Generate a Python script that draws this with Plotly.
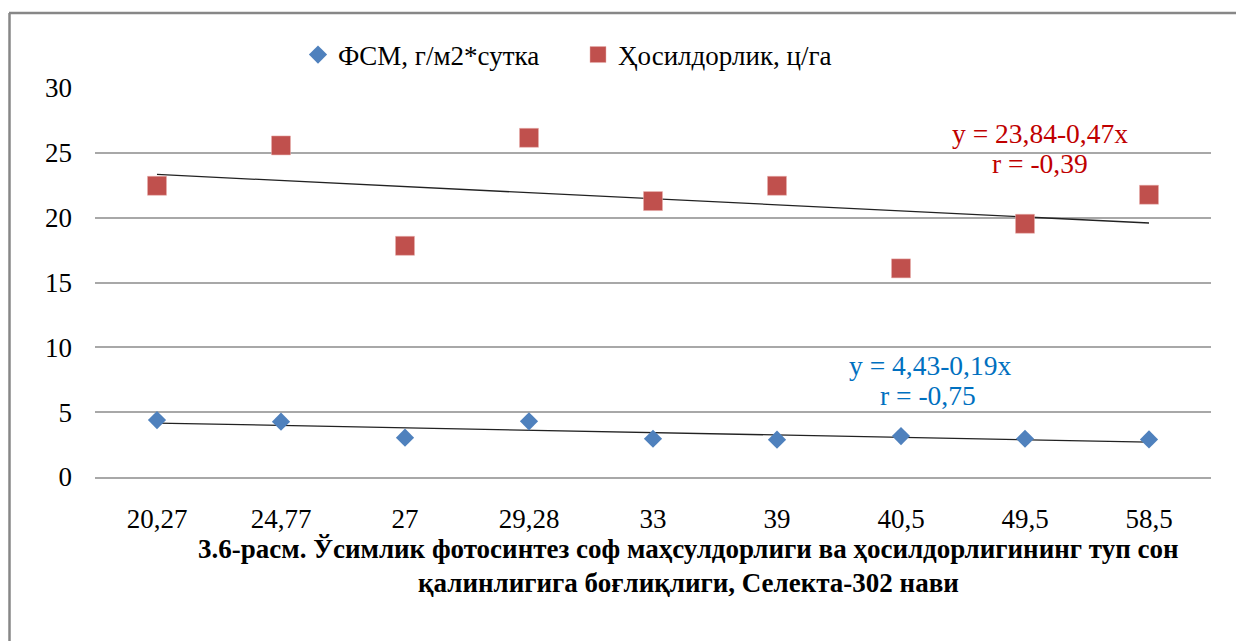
import numpy as np
import plotly.graph_objects as go

# ---- data ----
categories = ["20,27", "24,77", "27", "29,28", "33", "39", "40,5", "49,5", "58,5"]
fsm_values = [4.39, 4.27, 3.03, 4.29, 2.95, 2.88, 3.16, 2.95, 2.90]
yield_values = [22.46, 25.57, 17.83, 26.16, 21.28, 22.46, 16.09, 19.53, 21.77]
series_names = ["ФСМ, г/м2*сутка", "Ҳосилдорлик, ц/га"]
y_ticks = [0, 5, 10, 15, 20, 25, 30]
eq_fsm = ["y = 4,43-0,19x", "r = -0,75"]
eq_yield = ["y = 23,84-0,47x", "r = -0,39"]
caption_lines = [
    "3.6-расм. Ўсимлик фотосинтез соф маҳсулдорлиги ва ҳосилдорлигининг туп сон",
    "қалинлигига боғлиқлиги, Селекта-302 нави",
]

# linear trends (Excel-style, x = 1..n)
idx = np.arange(1, len(categories) + 1)
fsm_fit = np.polyval(np.polyfit(idx, fsm_values, 1), idx)
yield_fit = np.polyval(np.polyfit(idx, yield_values, 1), idx)

W, H = 1236, 641
FONT = "Liberation Serif"
BLUE = "#4F81BD"
RED = "#C0504D"

fig = go.Figure()
fig.add_trace(go.Scatter(x=categories, y=fsm_fit, mode="lines",
                         line=dict(color="#222222", width=1.3),
                         showlegend=False, hoverinfo="skip"))
fig.add_trace(go.Scatter(x=categories, y=yield_fit, mode="lines",
                         line=dict(color="#222222", width=1.3),
                         showlegend=False, hoverinfo="skip"))
fig.add_trace(go.Scatter(x=categories, y=fsm_values, mode="markers",
                         name=series_names[0],
                         marker=dict(symbol="diamond", size=14, color=BLUE,
                                     line=dict(width=0))))
fig.add_trace(go.Scatter(x=categories, y=yield_values, mode="markers",
                         name=series_names[1],
                         marker=dict(symbol="square", size=19, color=RED,
                                     line=dict(width=0.5, color="#E8B0AE"))))

# plot area geometry in px
L, R, T, B = 95, 1211, 88, 477

def px_x(xpx):
    return (xpx - L) / (R - L)

def px_y(ypx):
    return (B - ypx) / (B - T)

def ann(text, xpx, ypx, color, size, bold=False):
    fig.add_annotation(text=("<b>%s</b>" % text) if bold else text,
                       xref="paper", yref="paper",
                       x=px_x(xpx), y=px_y(ypx),
                       xanchor="center", yanchor="middle", showarrow=False,
                       font=dict(family=FONT, size=size, color=color))

ann(eq_yield[0], 1040, 133, "#C00000", 27.5)
ann(eq_yield[1], 1040, 163, "#C00000", 27.5)
ann(eq_fsm[0], 930, 365, "#0070C0", 27.5)
ann(eq_fsm[1], 928, 395, "#0070C0", 27.5)
ann(caption_lines[0], 688, 549, "#000000", 27, bold=True)
ann(caption_lines[1], 688, 583, "#000000", 27, bold=True)

# outer frame: top and left edges visible
fig.add_shape(type="line", xref="paper", yref="paper",
              x0=px_x(9), x1=px_x(1300), y0=px_y(13), y1=px_y(13),
              line=dict(color="#878787", width=2.5), layer="below")
fig.add_shape(type="line", xref="paper", yref="paper",
              x0=px_x(9.5), x1=px_x(9.5), y0=px_y(13), y1=px_y(700),
              line=dict(color="#878787", width=2.5), layer="below")

fig.update_layout(
    width=W, height=H,
    margin=dict(l=L, r=W - R, t=T, b=H - B, pad=0, autoexpand=False),
    paper_bgcolor="white", plot_bgcolor="white",
    font=dict(family=FONT, size=27, color="#000000"),
    showlegend=True,
    legend=dict(orientation="h", xref="container", yref="container",
                x=298 / W, y=1 - 55 / H, xanchor="left", yanchor="middle",
                entrywidth=235, entrywidthmode="pixels",
                font=dict(family=FONT, size=27, color="#000000"),
                bgcolor="rgba(0,0,0,0)", itemclick=False),
)
fig.update_xaxes(type="category", range=[-0.5, len(categories) - 0.5],
                 showgrid=False, zeroline=False,
                 showline=True, linecolor="#A8A8A8", linewidth=1.6,
                 ticks="", ticklabelstandoff=17,
                 tickfont=dict(family=FONT, size=27, color="#000000"))
fig.update_yaxes(range=[0, 30], tickvals=y_ticks, ticktext=[str(v) for v in y_ticks],
                 showgrid=True, gridcolor="#A8A8A8", gridwidth=1.6,
                 zeroline=False, showline=False, ticks="",
                 ticklabelstandoff=22,
                 tickfont=dict(family=FONT, size=27, color="#000000"))

fig.write_html("out.html")
